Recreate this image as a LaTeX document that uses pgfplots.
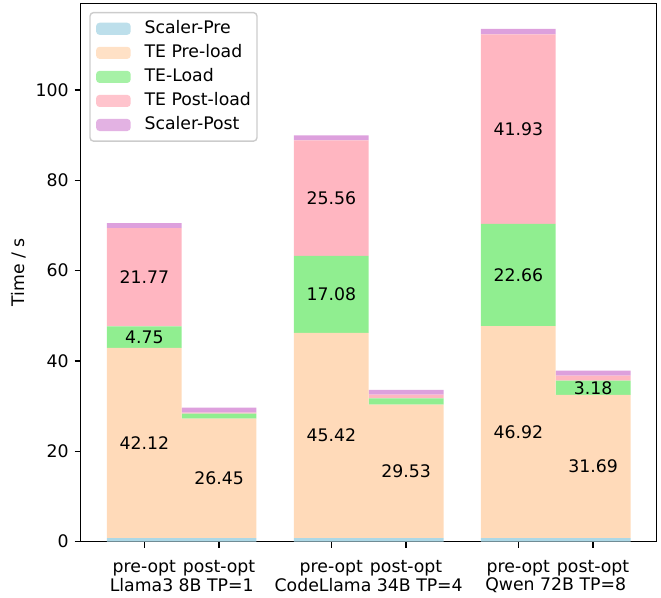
\documentclass[border=0pt]{standalone}
\usepackage{fontspec}
\setmainfont{DejaVu Sans}
\usepackage{pgfplots}
\pgfplotsset{compat=1.18}
\usepackage{pgfplotstable}

\definecolor{cPre}{HTML}{ADD8E6}
\definecolor{cTEpre}{HTML}{FFDAB9}
\definecolor{cLoad}{HTML}{90EE90}
\definecolor{cPost}{HTML}{FFB6C1}
\definecolor{cSPost}{HTML}{DDA0DD}

\pgfplotstableread{
x    spre tepre teload tepost spost
-0.2 0.8  42.12 4.75   21.77  1.1
0.2  0.8  26.45 1.1    0.2    1.1
0.8  0.8  45.42 17.08  25.56  1.1
1.2  0.8  29.53 1.4    0.8    1.1
1.8  0.8  46.92 22.66  41.93  1.2
2.2  0.8  31.69 3.18   1.1    1.1
}\data

\pgfplotstableread{
x    y      label
-0.2 21.86  42.12
-0.2 45.295 4.75
-0.2 58.555 21.77
0.2  14.025 26.45
0.8  23.51  45.42
0.8  54.76  17.08
0.8  76.08  25.56
1.2  15.565 29.53
1.8  24.26  46.92
1.8  59.05  22.66
1.8  91.345 41.93
2.2  16.645 31.69
2.2  34.08  3.18
}\labels

\begin{document}
\begin{tikzpicture}
\begin{axis}[
  name=ax,
  scale only axis,
  width=4.608in, height=4.307in,
  xmin=-0.54, xmax=2.54, ymin=0, ymax=119.2,
  ybar stacked, bar width=0.4, bar shift=0pt,
  tick align=outside,
  xtick pos=bottom, ytick pos=left,
  major tick length=3.5pt,
  axis line style={line width=0.8pt},
  tick style={line width=0.8pt, black},
  xtick={-0.2,0.2,0.8,1.2,1.8,2.2},
  xticklabels={pre-opt,post-opt,pre-opt,post-opt,pre-opt,post-opt},
  xticklabel style={inner sep=0pt, yshift=-7pt},
  extra x ticks={0,1,2},
  extra x tick labels={Llama3 8B TP=1,CodeLlama 34B TP=4,Qwen 72B TP=8},
  extra x tick style={major tick length=0pt, xticklabel style={yshift=-13.9pt}},
  ytick={0,20,40,60,80,100},
  ylabel={Time / s},
  ylabel shift=-1.5pt,
  /pgf/number format/assume math mode=true,
  legend cell align=left,
  legend style={at={(0,1)}, anchor=north west, xshift=5pt, yshift=-5pt,
    draw=black!20, fill=white, fill opacity=0.8, text opacity=1,
    rounded corners=2pt, line width=0.8pt,
    inner xsep=3.5pt, inner ysep=4.5pt, row sep=4.2pt, column sep=8pt,
    nodes={inner sep=0pt, text height=7.5pt, text depth=2.2pt}},
  legend image code/.code={\fill[#1] (0pt,-3.5pt) rectangle (20pt,3.5pt);},
]
\addplot[fill=cPre, draw=none] table[x=x,y=spre]{\data};
\addlegendentry{Scaler-Pre}
\addplot[fill=cTEpre, draw=none] table[x=x,y=tepre]{\data};
\addlegendentry{TE Pre-load}
\addplot[fill=cLoad, draw=none] table[x=x,y=teload]{\data};
\addlegendentry{TE-Load}
\addplot[fill=cPost, draw=none] table[x=x,y=tepost]{\data};
\addlegendentry{TE Post-load}
\addplot[fill=cSPost, draw=none] table[x=x,y=spost]{\data};
\addlegendentry{Scaler-Post}
\end{axis}
\begin{axis}[
  scale only axis,
  width=4.608in, height=4.307in,
  xmin=-0.54, xmax=2.54, ymin=0, ymax=119.2,
  hide axis,
]
\addplot[draw=none, mark=none, nodes near coords, point meta=explicit symbolic,
  every node near coord/.style={anchor=center, inner sep=0pt, text=black}]
  table[x=x,y=y,meta=label]{\labels};
\end{axis}
\pgfresetboundingbox
\path[use as bounding box] ([shift={(-0.6456in,-0.4504in)}]ax.south west) rectangle ([shift={(0.0344in,0.0264in)}]ax.north east);
\end{tikzpicture}
\end{document}
